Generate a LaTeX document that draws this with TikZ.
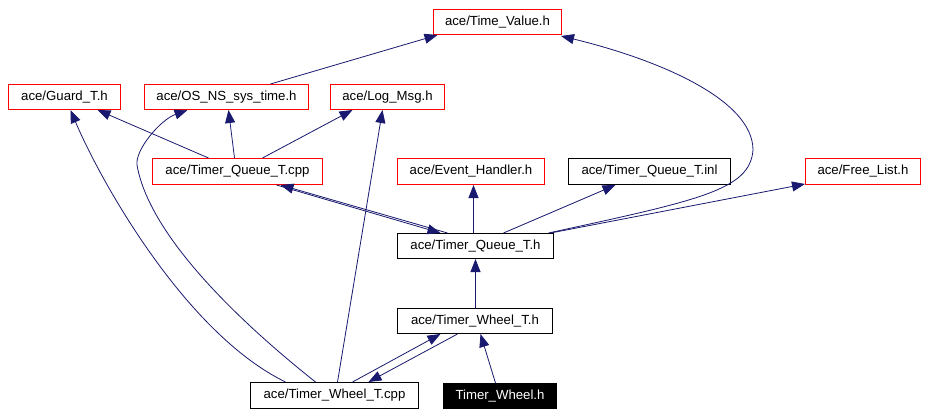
\documentclass[tikz,border=0pt]{standalone}
\usepackage{fontspec}
\setmainfont{Liberation Sans}
\usetikzlibrary{arrows.meta}
\definecolor{edgeblue}{HTML}{191970}
\tikzset{
  box/.style={draw=red, line width=1pt, fill=white, inner sep=0pt, minimum height=25pt, anchor=north west, font=\fontsize{13.2pt}{15pt}\selectfont, text=black},
  blackbox/.style={box, draw=black},
  solidbox/.style={box, draw=black, fill=black, text=white},
  dep/.style={draw=edgeblue, line width=0.8pt, -{Triangle[length=13pt,width=10pt]}, shorten >=0pt}
}
\begin{document}
\begin{tikzpicture}[x=1pt,y=-1pt]
\useasboundingbox[fill=white] (0,0) rectangle (927,415);
% nodes
\node[box, minimum width=128pt] (TV) at (433,9) {ace/Time\_Value.h};
\node[box, minimum width=112pt] (GT) at (8,84) {ace/Guard\_T.h};
\node[box, minimum width=164pt] (OS) at (144,84) {ace/OS\_NS\_sys\_time.h};
\node[box, minimum width=114pt] (LM) at (330,84) {ace/Log\_Msg.h};
\node[box, minimum width=170pt, minimum height=26pt] (TQC) at (152,158) {ace/Timer\_Queue\_T.cpp};
\node[box, minimum width=147pt, minimum height=26pt] (EH) at (397,158) {ace/Event\_Handler.h};
\node[blackbox, minimum width=162pt, minimum height=26pt] (TQI) at (568,158) {ace/Timer\_Queue\_T.inl};
\node[box, minimum width=115pt, minimum height=26pt] (FL) at (805,158) {ace/Free\_List.h};
\node[blackbox, minimum width=156pt] (TQH) at (397,233) {ace/Timer\_Queue\_T.h};
\node[blackbox, minimum width=155pt] (TWH) at (397,308) {ace/Timer\_Wheel\_T.h};
\node[blackbox, minimum width=168pt, minimum height=26pt] (TWC) at (250,382) {ace/Timer\_Wheel\_T.cpp};
\node[solidbox, minimum width=113pt] (TW) at (443,383) {Timer\_Wheel.h};
% edges
\draw[dep] ([xshift=44pt]OS.north) -- ([xshift=-60pt]TV.south);
\draw[dep] ([xshift=73pt]TQH.north) .. controls (700,200) and (750,190) .. (753,150)
   .. controls (753,100) and (660,60) .. ([xshift=-1pt,yshift=-1pt]TV.south east);
\draw[dep] ([xshift=-29pt]TQC.north) -- ([xshift=33pt]GT.south);
\draw[dep] ([xshift=-3pt]TQC.north) -- ([xshift=2pt]OS.south);
\draw[dep] ([xshift=25pt]TQC.north) -- ([xshift=-35pt]LM.south);
\draw[dep] ([xshift=-28pt]TQH.north) -- ([xshift=43pt]TQC.south);
\draw[dep] ([xshift=39pt]TQC.south) -- ([xshift=-35pt]TQH.north);
\draw[dep] ([xshift=-2pt]TQH.north) -- ([xshift=2.5pt]EH.south);
\draw[dep] ([xshift=28pt]TQH.north) -- ([xshift=-34pt]TQI.south);
\draw[dep] ([xshift=75pt]TQH.north) -- ([yshift=1pt]FL.south west);
\draw[dep] ([xshift=0.5pt]TWH.north) -- (TQH.south);
\draw[dep] ([xshift=18pt]TWC.north) -- ([xshift=-34.5pt]TWH.south);
\draw[dep] ([xshift=-17.5pt]TWH.south) -- ([xshift=34pt]TWC.north);
\draw[dep] ([xshift=-4.5pt]TW.north) -- ([xshift=5.5pt]TWH.south);
\draw[dep] ([xshift=-49pt]TWC.north) .. controls (185,333) and (100,180) .. ([xshift=6pt]GT.south);
\draw[dep] ([xshift=-19pt]TWC.north) .. controls (250,330) and (150,240) .. (137,165)
   .. controls (135,150) and (160,120) .. ([xshift=-39pt]OS.south);
\draw[dep] ([xshift=3pt]TWC.north) -- ([xshift=-5pt]LM.south);
\end{tikzpicture}
\end{document}
